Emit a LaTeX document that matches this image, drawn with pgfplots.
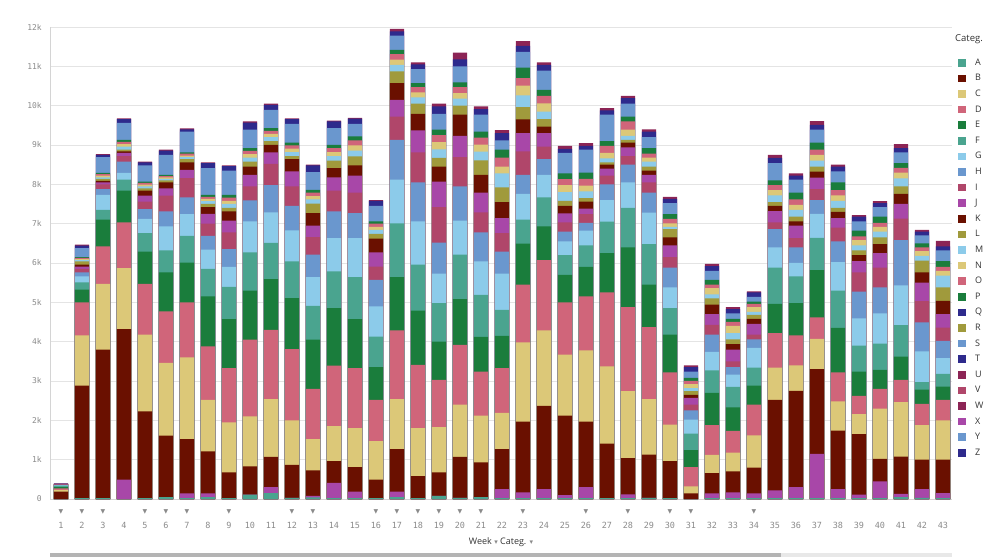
\documentclass[border=0pt]{standalone}
\usepackage{fontspec}
\setmainfont{Open Sans}
\newfontfamily\monofont{DejaVu Sans Mono}
\newfontfamily\sym{DejaVu Sans}
\usepackage{pgfplots}
\usepackage{pgfplotstable}
\pgfplotsset{compat=1.18}
\definecolor{tealc}{HTML}{4AA48F}
\definecolor{maroonc}{HTML}{6A1000}
\definecolor{yellowc}{HTML}{DCC878}
\definecolor{pinkc}{HTML}{D0657A}
\definecolor{greenc}{HTML}{1A7D3C}
\definecolor{lightc}{HTML}{8CCBEA}
\definecolor{steelc}{HTML}{6A97CE}
\definecolor{rosec}{HTML}{B0466A}
\definecolor{purplec}{HTML}{A847A8}
\definecolor{olivec}{HTML}{A09A3C}
\definecolor{navyc}{HTML}{2E2A8C}
\definecolor{plumc}{HTML}{8C2455}
\definecolor{tickgray}{HTML}{8A8A8A}
\definecolor{gridgray}{HTML}{E4E4E4}
\definecolor{axisgray}{HTML}{D4D4D4}
\definecolor{textc}{HTML}{333333}
\definecolor{scrolldark}{HTML}{B4B4B4}
\definecolor{scrolllight}{HTML}{E8E8E8}
\newcommand\tw[1]{\setbox0\hbox{#1}\rlap{\hbox to\wd0{\hss\smash{\raisebox{15.5pt}{\sym\fontsize{6}{6}\selectfont\color{tickgray}▼}}\hss}}\box0}
\pgfplotstableread{
w a pu b c d e f g h i j k l m n o p s t u
1 0.00 0.00 0.19 0.23 0.27 0.30 0.34 0.35 0.36 0.37 0.37 0.37 0.37 0.38 0.38 0.38 0.38 0.38 0.39 0.40
2 0.02 0.02 2.88 4.16 5.00 5.32 5.51 5.66 5.76 5.85 5.91 5.96 6.04 6.07 6.10 6.13 6.15 6.38 6.44 6.47
3 0.02 0.02 3.80 5.47 6.42 7.10 7.35 7.73 7.88 8.00 8.05 8.09 8.14 8.18 8.22 8.26 8.29 8.69 8.75 8.77
4 0.00 0.49 4.32 5.87 7.03 7.84 8.12 8.29 8.58 8.72 8.80 8.84 8.88 8.96 9.02 9.08 9.13 9.56 9.66 9.68
5 0.02 0.02 2.23 4.18 5.47 6.29 6.76 7.12 7.37 7.56 7.71 7.84 7.90 7.95 7.99 8.04 8.07 8.48 8.56 8.58
6 0.05 0.05 1.61 3.46 4.77 5.76 6.32 6.93 7.31 7.71 7.90 8.05 8.10 8.14 8.18 8.21 8.24 8.75 8.86 8.88
7 0.02 0.14 1.52 3.60 5.00 6.01 6.69 7.24 7.67 8.16 8.37 8.56 8.64 8.69 8.73 8.78 8.81 9.34 9.40 9.42
8 0.05 0.14 1.21 2.52 3.88 5.15 5.85 6.34 6.69 7.00 7.25 7.42 7.50 7.57 7.63 7.68 7.73 8.41 8.54 8.56
9 0.02 0.02 0.68 1.95 3.33 4.57 5.39 5.90 6.35 6.78 7.08 7.31 7.40 7.50 7.58 7.66 7.73 8.35 8.46 8.48
10 0.11 0.11 0.83 2.10 4.05 5.30 6.27 7.06 7.59 7.95 8.24 8.45 8.58 8.68 8.77 8.85 8.92 9.39 9.57 9.60
11 0.15 0.30 1.07 2.54 4.30 5.59 6.51 7.29 7.98 8.52 8.81 9.00 9.10 9.20 9.28 9.36 9.43 9.89 10.02 10.05
12 0.03 0.03 0.87 2.00 3.81 5.11 6.04 6.83 7.45 7.95 8.33 8.64 8.72 8.82 8.91 8.99 9.06 9.54 9.66 9.68
13 0.04 0.08 0.73 1.52 2.80 4.05 4.91 5.64 6.21 6.66 6.95 7.27 7.51 7.62 7.70 7.79 7.86 8.31 8.48 8.50
14 0.02 0.41 0.96 1.85 3.39 4.85 5.79 6.63 7.31 7.84 8.18 8.41 8.60 8.72 8.82 8.92 9.00 9.43 9.60 9.62
15 0.02 0.19 0.81 1.80 3.33 4.57 5.64 6.63 7.27 7.79 8.22 8.48 8.71 8.86 8.99 9.12 9.22 9.54 9.67 9.69
16 0.02 0.02 0.49 1.47 2.52 3.35 4.13 4.90 5.57 5.91 6.27 6.62 6.74 6.84 6.92 7.00 7.06 7.45 7.58 7.60
17 0.05 0.19 1.27 2.54 4.29 5.64 7.01 8.12 9.13 9.72 10.15 10.57 10.87 11.04 11.17 11.31 11.42 11.78 11.89 11.95
18 0.02 0.02 0.58 1.80 3.41 4.79 5.96 7.06 8.05 8.81 9.37 9.79 10.05 10.21 10.34 10.47 10.57 10.93 11.05 11.10
19 0.08 0.08 0.68 1.83 3.03 4.00 4.98 5.73 6.52 7.42 8.07 8.45 8.67 8.89 9.07 9.25 9.39 9.79 9.98 10.05
20 0.03 0.03 1.07 2.40 3.92 5.08 6.21 7.08 7.95 8.69 9.23 9.77 10.00 10.18 10.32 10.47 10.59 11.00 11.18 11.35
21 0.05 0.05 0.93 2.12 3.24 4.12 5.19 6.04 6.78 7.29 7.79 8.24 8.61 8.83 9.01 9.19 9.34 9.77 9.91 9.98
22 0.02 0.25 1.27 2.19 3.33 4.15 4.81 5.73 6.29 6.76 7.14 7.55 7.92 8.28 8.45 8.68 8.88 9.12 9.30 9.38
23 0.02 0.17 1.97 3.98 5.45 6.49 7.10 7.76 8.24 8.84 9.30 9.65 9.96 10.26 10.51 10.70 10.97 11.37 11.52 11.64
24 0.02 0.25 2.37 4.29 6.07 6.93 7.67 8.24 8.64 8.96 9.30 9.47 9.66 9.85 10.06 10.25 10.40 10.89 11.04 11.10
25 0.02 0.10 2.12 3.67 5.00 5.70 6.20 6.55 6.80 7.03 7.26 7.45 7.58 7.80 7.98 8.13 8.28 8.80 8.90 8.98
26 0.02 0.30 1.97 3.78 5.15 5.90 6.45 6.82 7.02 7.24 7.38 7.56 7.65 7.82 7.97 8.14 8.30 8.88 8.98 9.05
27 0.02 0.02 1.41 3.37 5.25 6.25 7.05 7.60 8.00 8.22 8.40 8.50 8.56 8.66 8.80 8.98 9.10 9.77 9.88 9.94
28 0.02 0.12 1.04 2.74 4.88 6.40 7.40 8.05 8.50 8.72 8.94 9.06 9.13 9.23 9.39 9.60 9.72 10.05 10.19 10.25
29 0.03 0.03 1.13 2.54 4.37 5.45 6.48 7.28 7.79 8.05 8.24 8.35 8.45 8.58 8.68 8.78 8.92 9.20 9.34 9.40
30 0.02 0.02 0.96 1.89 3.22 4.18 4.85 5.38 5.88 6.15 6.45 6.65 6.86 6.92 7.01 7.12 7.24 7.52 7.63 7.68
31 0.00 0.00 0.14 0.32 0.81 1.24 1.66 2.02 2.25 2.40 2.57 2.65 2.74 2.82 2.92 3.00 3.08 3.24 3.35 3.40
32 0.02 0.14 0.66 1.12 1.88 2.70 3.27 3.74 4.18 4.43 4.70 4.94 5.10 5.20 5.36 5.45 5.57 5.80 5.92 5.98
33 0.02 0.17 0.70 1.18 1.73 2.33 2.85 3.16 3.35 3.50 3.80 3.94 4.06 4.22 4.40 4.50 4.58 4.72 4.83 4.88
34 0.02 0.14 0.80 1.62 2.40 2.88 3.34 3.84 4.06 4.18 4.45 4.58 4.68 4.76 4.88 4.96 5.02 5.14 5.25 5.28
35 0.02 0.22 2.52 3.34 4.22 4.96 5.88 6.40 6.86 7.03 7.32 7.45 7.55 7.72 7.85 7.98 8.10 8.54 8.67 8.75
36 0.02 0.30 2.75 3.40 4.16 4.98 5.66 6.00 6.40 6.63 6.95 7.06 7.18 7.35 7.48 7.62 7.79 8.12 8.22 8.28
37 0.02 1.15 3.30 4.07 4.62 5.82 6.64 7.25 7.60 7.88 8.17 8.32 8.45 8.60 8.75 8.88 9.06 9.39 9.51 9.61
38 0.02 0.25 1.74 2.48 3.22 4.35 5.30 6.02 6.55 6.90 7.14 7.30 7.40 7.58 7.72 7.85 8.05 8.33 8.45 8.50
39 0.02 0.11 1.65 2.16 2.62 3.24 3.90 4.59 5.27 5.76 6.05 6.20 6.32 6.45 6.58 6.68 6.82 7.06 7.18 7.22
40 0.02 0.45 1.02 2.30 2.80 3.28 3.95 4.72 5.38 5.88 6.25 6.48 6.65 6.80 6.92 7.02 7.18 7.42 7.52 7.57
41 0.05 0.13 1.08 2.46 3.03 3.62 4.42 5.43 6.58 7.13 7.50 7.76 7.95 8.15 8.30 8.42 8.54 8.81 8.92 9.02
42 0.03 0.25 1.00 1.88 2.42 2.78 2.97 3.75 4.49 5.03 5.50 5.76 6.06 6.18 6.30 6.40 6.50 6.70 6.80 6.84
43 0.02 0.15 1.00 2.00 2.52 2.86 3.18 3.58 4.02 4.36 4.70 5.04 5.38 5.68 5.80 5.90 6.05 6.32 6.42 6.56
}\data
\pgfplotsset{sq/.style={legend image code/.code={\fill[#1] (0pt,-3pt) rectangle (6.5pt,3.5pt);}}}
\newcommand\bp[2]{\addplot[forget plot, ybar, bar shift=0pt, bar width=0.68, fill=#1, draw=none] table[x=w,y=#2]{\data};}
\begin{document}
\begin{tikzpicture}
\path[use as bounding box] (0,0) rectangle (999pt,557pt);
\begin{axis}[
  at={(50pt,58pt)}, anchor=south west,
  scale only axis, width=902pt, height=472pt,
  xmin=0.476, xmax=43.43, ymin=0, ymax=12,
  axis x line=bottom, axis y line=left,
  axis line style={-, draw=axisgray, line width=0.8pt},
  major tick length=0pt,
  ymajorgrids, grid style={draw=gridgray, line width=0.8pt},
  ytick={0,1,...,12},
  yticklabels={0,1k,2k,3k,4k,5k,6k,7k,8k,9k,10k,11k,12k},
  yticklabel style={font=\monofont\fontsize{8}{9}\selectfont, text=tickgray, anchor=east, inner sep=0pt, xshift=-8pt},
  xtick={1,...,43},
  xticklabels={\tw{1},\tw{2},\tw{3},4,\tw{5},\tw{6},\tw{7},8,\tw{9},10,11,\tw{12},\tw{13},14,15,\tw{16},\tw{17},\tw{18},\tw{19},\tw{20},\tw{21},22,\tw{23},24,25,\tw{26},27,\tw{28},29,\tw{30},\tw{31},32,33,\tw{34},35,36,37,38,39,40,41,42,43},
  xticklabel style={font=\monofont\fontsize{8.5}{9}\selectfont, text=tickgray, anchor=center, inner sep=0pt, yshift=-26.5pt},
  xlabel={Week {\sym\fontsize{7}{7}\selectfont\color{tickgray}▾} Categ. {\sym\fontsize{7}{7}\selectfont\color{tickgray}▾}},
  xlabel style={at={(axis description cs:0.5,0)}, anchor=center, yshift=-43pt, font=\fontsize{9}{10}\selectfont, text=textc},
  legend style={at={(axis description cs:1,1)}, anchor=north west, xshift=6pt, yshift=-31pt, draw=none, fill=none, inner sep=0pt, row sep=6.6pt, font=\fontsize{9}{10}\selectfont, text=textc, nodes={inner sep=0pt, text height=7pt, text depth=2pt}, /tikz/column 2/.style={column sep=0pt}},
  legend cell align=left,
]
\addlegendimage{sq=tealc}\addlegendentry{\hspace{10pt}A}
\addlegendimage{sq=maroonc}\addlegendentry{\hspace{10pt}B}
\addlegendimage{sq=yellowc}\addlegendentry{\hspace{10pt}C}
\addlegendimage{sq=pinkc}\addlegendentry{\hspace{10pt}D}
\addlegendimage{sq=greenc}\addlegendentry{\hspace{10pt}E}
\addlegendimage{sq=tealc}\addlegendentry{\hspace{10pt}F}
\addlegendimage{sq=lightc}\addlegendentry{\hspace{10pt}G}
\addlegendimage{sq=steelc}\addlegendentry{\hspace{10pt}H}
\addlegendimage{sq=rosec}\addlegendentry{\hspace{10pt}I}
\addlegendimage{sq=purplec}\addlegendentry{\hspace{10pt}J}
\addlegendimage{sq=maroonc}\addlegendentry{\hspace{10pt}K}
\addlegendimage{sq=olivec}\addlegendentry{\hspace{10pt}L}
\addlegendimage{sq=lightc}\addlegendentry{\hspace{10pt}M}
\addlegendimage{sq=yellowc}\addlegendentry{\hspace{10pt}N}
\addlegendimage{sq=pinkc}\addlegendentry{\hspace{10pt}O}
\addlegendimage{sq=greenc}\addlegendentry{\hspace{10pt}P}
\addlegendimage{sq=navyc}\addlegendentry{\hspace{10pt}Q}
\addlegendimage{sq=olivec}\addlegendentry{\hspace{10pt}R}
\addlegendimage{sq=steelc}\addlegendentry{\hspace{10pt}S}
\addlegendimage{sq=navyc}\addlegendentry{\hspace{10pt}T}
\addlegendimage{sq=plumc}\addlegendentry{\hspace{10pt}U}
\addlegendimage{sq=rosec}\addlegendentry{\hspace{10pt}V}
\addlegendimage{sq=plumc}\addlegendentry{\hspace{10pt}W}
\addlegendimage{sq=purplec}\addlegendentry{\hspace{10pt}X}
\addlegendimage{sq=steelc}\addlegendentry{\hspace{10pt}Y}
\addlegendimage{sq=navyc}\addlegendentry{\hspace{10pt}Z}
\bp{plumc}{u}
\bp{navyc}{t}
\bp{steelc}{s}
\bp{greenc}{p}
\bp{pinkc}{o}
\bp{yellowc}{n}
\bp{lightc}{m}
\bp{olivec}{l}
\bp{maroonc}{k}
\bp{purplec}{j}
\bp{rosec}{i}
\bp{steelc}{h}
\bp{lightc}{g}
\bp{tealc}{f}
\bp{greenc}{e}
\bp{pinkc}{d}
\bp{yellowc}{c}
\bp{maroonc}{b}
\bp{purplec}{pu}
\bp{tealc}{a}
\end{axis}
\node[anchor=base west, font=\fontsize{9.5}{10}\selectfont, text=textc, inner sep=0pt] at (955pt,515.5pt) {Categ.};
\fill[scrolldark] (50pt,0pt) rectangle (781pt,4pt);
\fill[scrolllight] (781pt,0pt) rectangle (952pt,4pt);
\end{tikzpicture}
\end{document}
